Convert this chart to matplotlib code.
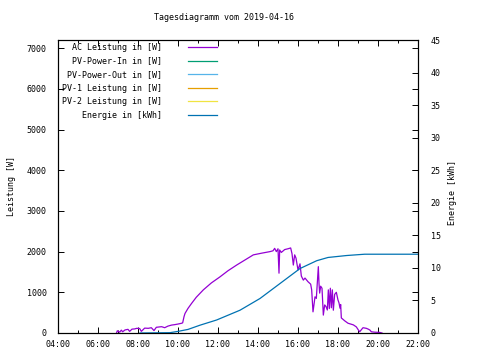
import matplotlib
matplotlib.use("Agg")
import matplotlib.pyplot as plt
from matplotlib.ticker import MultipleLocator, FuncFormatter

plt.rcParams["font.family"] = "DejaVu Sans Mono"
plt.rcParams["font.size"] = 6

# AC Leistung [W], Uhrzeit -> Watt
ac_zeit = ["06:56", "06:58", "07:05", "07:10", "07:14", "07:21", "07:30", "07:35", "07:42",
           "07:50", "07:56", "08:05", "08:10", "08:20", "08:31", "08:40", "08:48", "08:55",
           "09:05", "09:11", "09:20", "09:30", "09:41", "09:50", "10:00", "10:11", "10:14",
           "10:18", "10:21", "10:30", "10:41", "10:55", "11:16", "11:40", "12:06", "12:30",
           "12:56", "13:20", "13:46", "14:10", "14:36", "14:45", "14:50", "14:55", "15:00",
           "15:03", "15:05", "15:10", "15:20", "15:30", "15:38", "15:42", "15:46", "15:50",
           "15:54", "16:00", "16:06", "16:10", "16:16", "16:21", "16:30", "16:38", "16:41",
           "16:45", "16:48", "16:51", "16:55", "17:01", "17:03", "17:05", "17:08", "17:12",
           "17:16", "17:20", "17:24", "17:28", "17:31", "17:34", "17:37", "17:40", "17:43",
           "17:46", "17:50", "17:55", "18:00", "18:03", "18:06", "18:08", "18:10", "18:20",
           "18:30", "18:46", "18:55", "19:01", "19:05", "19:10", "19:15", "19:25", "19:32",
           "19:36", "19:40", "19:50", "20:05", "20:12"]
ac_watt = [10, 55, 20, 70, 30, 75, 90, 40, 95, 100, 115, 110, 40, 120, 115, 130, 60, 140,
           150, 155, 130, 170, 195, 205, 220, 240, 250, 400, 480, 605, 730, 880, 1060, 1230,
           1380, 1530, 1670, 1790, 1920, 1960, 2000, 2020, 2080, 2000, 2070, 1470, 2040, 1980,
           2050, 2070, 2090, 1950, 1670, 1920, 1840, 1550, 1700, 1400, 1300, 1350, 1260, 1200,
           1060, 520, 700, 890, 850, 1630, 1220, 980, 1150, 1100, 440, 690, 650, 565, 1060,
           600, 1100, 620, 1060, 560, 950, 1000, 810, 740, 610, 700, 370, 300, 240, 200, 150,
           75, 30, 80, 130, 115, 90, 70, 30, 20, 15, 0]

# Energie [kWh]
en_zeit = ["08:06", "09:36", "10:00", "10:30", "11:06", "11:56", "13:06", "14:06", "15:06",
           "16:06", "16:56", "17:30", "18:26", "19:20", "22:00"]
en_kwh = [0.0, 0.05, 0.25, 0.55, 1.2, 2.0, 3.5, 5.3, 7.6, 9.9, 11.1, 11.6, 11.9, 12.1, 12.1]

# keine Daten fuer PV-Reihen
pv_in_zeit, pv_in_watt = [], []
pv_out_zeit, pv_out_watt = [], []
pv1_zeit, pv1_watt = [], []
pv2_zeit, pv2_watt = [], []


def stunden(liste):
    return [int(t[:2]) + int(t[3:]) / 60 for t in liste]


fig = plt.figure(figsize=(4.8, 3.6), dpi=100)
ax = fig.add_axes([58 / 480, 27 / 360, 360 / 480, 293 / 360])
ax2 = ax.twinx()

l1, = ax.plot(stunden(ac_zeit), ac_watt, color="#9400D3", lw=0.9)
l2, = ax.plot(pv_in_zeit, pv_in_watt, color="#009E73", lw=0.9)
l3, = ax.plot(pv_out_zeit, pv_out_watt, color="#56B4E9", lw=0.9)
l4, = ax.plot(pv1_zeit, pv1_watt, color="#E69F00", lw=0.9)
l5, = ax.plot(pv2_zeit, pv2_watt, color="#F0E442", lw=0.9)
l6, = ax2.plot(stunden(en_zeit), en_kwh, color="#0072B2", lw=0.9)

ax.set_xlim(4, 22)
ax.set_ylim(0, 7200)
ax2.set_ylim(0, 45)

ax.xaxis.set_major_locator(MultipleLocator(2))
ax.xaxis.set_minor_locator(MultipleLocator(1))
ax.xaxis.set_major_formatter(FuncFormatter(lambda v, p: "%02d:00" % int(round(v))))
ax.yaxis.set_major_locator(MultipleLocator(1000))
ax2.yaxis.set_major_locator(MultipleLocator(5))

ax.tick_params(which="both", direction="in", top=True, right=True)
ax.tick_params(axis="y", pad=8)
ax.tick_params(axis="x", pad=5)
ax.tick_params(which="major", length=4, width=0.7)
ax.tick_params(which="minor", length=2.2, width=0.7)
ax2.tick_params(direction="in", length=4, width=0.7, pad=9)
for s in list(ax.spines.values()) + list(ax2.spines.values()):
    s.set_linewidth(0.8)

ax.set_ylabel("Leistung [W]", va="center")
ax.yaxis.set_label_coords(-(58 - 12) / 360, 0.5)
ax2.set_ylabel("Energie [kWh]", va="center")
ax2.yaxis.set_label_coords((452 - 58) / 360, 0.48)
fig.text(224 / 480, 1 - 18 / 360, "Tagesdiagramm vom 2019-04-16", ha="center", va="center")

labels = ["AC Leistung in [W]", "PV-Power-In in [W]", "PV-Power-Out in [W]",
          "PV-1 Leistung in [W]", "PV-2 Leistung in [W]", "Energie in [kWh]"]
breite = max(len(t) for t in labels)
ax2.legend([l1, l2, l3, l4, l5, l6], [t.rjust(breite) for t in labels],
           loc="upper left", bbox_to_anchor=(0.01, 0.99), frameon=False,
           markerfirst=False, handlelength=3.4, handletextpad=3.2, labelspacing=0.55,
           borderpad=0, borderaxespad=0)

fig.savefig("out.png", dpi=100)
